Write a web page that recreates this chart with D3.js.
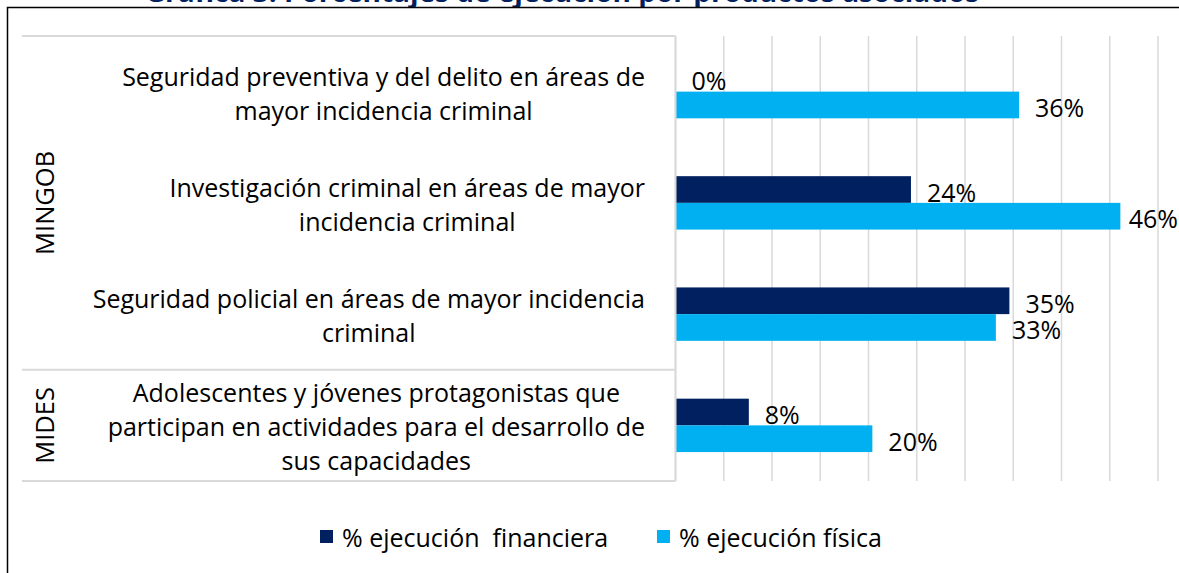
<!DOCTYPE html>
<html>
<head>
<meta charset="utf-8">
<script src="https://cdn.jsdelivr.net/npm/d3@7"></script>
<style>
  body { margin: 0; background: #fff; }
  svg { display: block; font-family: "Open Sans", "Noto Sans", sans-serif; }
</style>
</head>
<body>
<svg width="1179" height="573"></svg>
<script>
// data
var groups = ["MINGOB", "MINGOB", "MINGOB", "MIDES"];
var categories = [
  "Seguridad preventiva y del delito en áreas de mayor incidencia criminal",
  "Investigación criminal en áreas de mayor incidencia criminal",
  "Seguridad policial en áreas de mayor incidencia criminal",
  "Adolescentes y jóvenes protagonistas que participan en actividades para el desarrollo de sus capacidades"
];
var categoryLines = [
  ["Seguridad preventiva y del delito en áreas de", "mayor incidencia criminal"],
  ["Investigación criminal en áreas de mayor", "incidencia criminal"],
  ["Seguridad policial en áreas de mayor incidencia", "criminal"],
  ["Adolescentes y jóvenes protagonistas que", "participan en actividades para el desarrollo de", "sus capacidades"]
];
var seriesNames = ["% ejecución  financiera", "% ejecución física"];
var financiera = [0.00, 0.244, 0.346, 0.076];
var fisica = [0.356, 0.461, 0.332, 0.204];
var seriesColors = ["#002060", "#00B0F0"];
var xTicks = [0, 0.05, 0.1, 0.15, 0.2, 0.25, 0.3, 0.35, 0.4, 0.45, 0.5];

var svg = d3.select("svg"),
    width = 1179,
    height = 573;

var rows = categories.map(function(c, i) {
  return { name: c, group: groups[i], lines: categoryLines[i], values: [financiera[i], fisica[i]] };
});

// title (cut off at the top of the picture)
svg.append("text")
  .attr("x", 562)
  .attr("y", 2)
  .attr("text-anchor", "middle")
  .style("font-size", "28px")
  .style("font-weight", "bold")
  .style("fill", "#002060")
  .text("Gráfica 3. Porcentajes de ejecución por productos asociados");

// frame
svg.append("rect")
  .attr("x", 7.5)
  .attr("y", 7.5)
  .attr("width", width + 10)
  .attr("height", height + 10)
  .attr("fill", "#fff")
  .attr("stroke", "#000")
  .attr("stroke-width", 1.5);

var plotLeft = 675.5, plotRight = 1158, plotTop = 36, plotBottom = 481;

var x = d3.scaleLinear().domain([0, 0.5]).range([plotLeft, plotRight]);
var y = d3.scaleBand().domain(d3.range(rows.length)).range([plotTop, plotBottom]).padding(0);
var ySub = d3.scaleBand().domain([0, 1]).range([y.bandwidth() * 0.26, y.bandwidth() * 0.74]);

// gridlines
svg.append("g")
  .selectAll("line")
  .data(xTicks)
  .enter().append("line")
  .attr("x1", function(d) { return x(d); })
  .attr("x2", function(d) { return x(d); })
  .attr("y1", plotTop)
  .attr("y2", plotBottom)
  .attr("stroke", "#d9d9d9")
  .attr("stroke-width", 1.5);

// category table lines (multi level axis)
var tableLeft = 22;
var groupBreaks = [plotTop, y(3), plotBottom];
svg.append("g")
  .selectAll("line")
  .data(groupBreaks)
  .enter().append("line")
  .attr("x1", tableLeft)
  .attr("x2", plotLeft)
  .attr("y1", function(d) { return d; })
  .attr("y2", function(d) { return d; })
  .attr("stroke", "#d9d9d9")
  .attr("stroke-width", 2);

// group labels
var groupInfo = [
  { name: "MINGOB", from: 0, to: 2 },
  { name: "MIDES", from: 3, to: 3 }
];
svg.append("g")
  .selectAll("text")
  .data(groupInfo)
  .enter().append("text")
  .attr("transform", function(d) {
    var cy = (y(d.from) + y(d.to) + y.bandwidth()) / 2;
    return "translate(44," + cy + ") rotate(-90)";
  })
  .attr("text-anchor", "middle")
  .attr("dominant-baseline", "central")
  .style("font-size", "25.5px")
  .style("fill", "#000")
  .text(function(d) { return d.name; });

// category labels: lines centred on the widest line, block right aligned
var labelRight = 645, lineH = 34;
var catLabel = svg.append("g")
  .selectAll("text")
  .data(rows)
  .enter().append("text")
  .style("font-size", "25px")
  .style("fill", "#000")
  .attr("text-anchor", "middle")
  .attr("dominant-baseline", "central");

catLabel.each(function(d, i) {
  var t = d3.select(this);
  var cy = y(i) + y.bandwidth() / 2 + 1;
  var spans = t.selectAll("tspan")
    .data(d.lines)
    .enter().append("tspan")
    .attr("y", function(l, j) { return cy + (j - (d.lines.length - 1) / 2) * lineH; })
    .text(function(l) { return l; });
  var maxW = 0;
  spans.each(function() { maxW = Math.max(maxW, this.getComputedTextLength()); });
  spans.attr("x", labelRight - maxW / 2);
});

// bars
var rowG = svg.append("g")
  .selectAll("g")
  .data(rows)
  .enter().append("g")
  .attr("transform", function(d, i) { return "translate(0," + y(i) + ")"; });

rowG.selectAll("rect")
  .data(function(d) { return d.values; })
  .enter().append("rect")
  .attr("x", x(0))
  .attr("y", function(v, j) { return ySub(j); })
  .attr("width", function(v) { return x(v) - x(0); })
  .attr("height", ySub.bandwidth())
  .attr("fill", function(v, j) { return seriesColors[j]; });

rowG.selectAll("text")
  .data(function(d) { return d.values; })
  .enter().append("text")
  .attr("y", function(v, j) { return ySub(j) + ySub.bandwidth() / 2 + 2; })
  .attr("dominant-baseline", "central")
  .style("font-size", "25px")
  .style("fill", "#000")
  .text(function(v) { return d3.format(".0%")(v); })
  .attr("x", function(v) {
    var w = this.getComputedTextLength();
    return Math.min(x(v) + 16, width - w - 1);
  });

// left axis line
svg.append("line")
  .attr("x1", plotLeft)
  .attr("x2", plotLeft)
  .attr("y1", plotTop)
  .attr("y2", plotBottom)
  .attr("stroke", "#d9d9d9")
  .attr("stroke-width", 2);

// legend
var legendX = [320, 657];
var legend = svg.append("g")
  .selectAll("g")
  .data(seriesNames)
  .enter().append("g")
  .attr("transform", function(d, i) { return "translate(" + legendX[i] + ",537)"; });

legend.append("rect")
  .attr("x", 0)
  .attr("y", -7)
  .attr("width", 13)
  .attr("height", 13)
  .attr("fill", function(d, i) { return seriesColors[i]; });

legend.append("text")
  .attr("x", 22)
  .attr("y", 0)
  .attr("dominant-baseline", "central")
  .style("font-size", "25px")
  .style("white-space", "pre")
  .attr("xml:space", "preserve")
  .style("fill", "#000")
  .text(function(d) { return d; });
</script>
</body>
</html>
